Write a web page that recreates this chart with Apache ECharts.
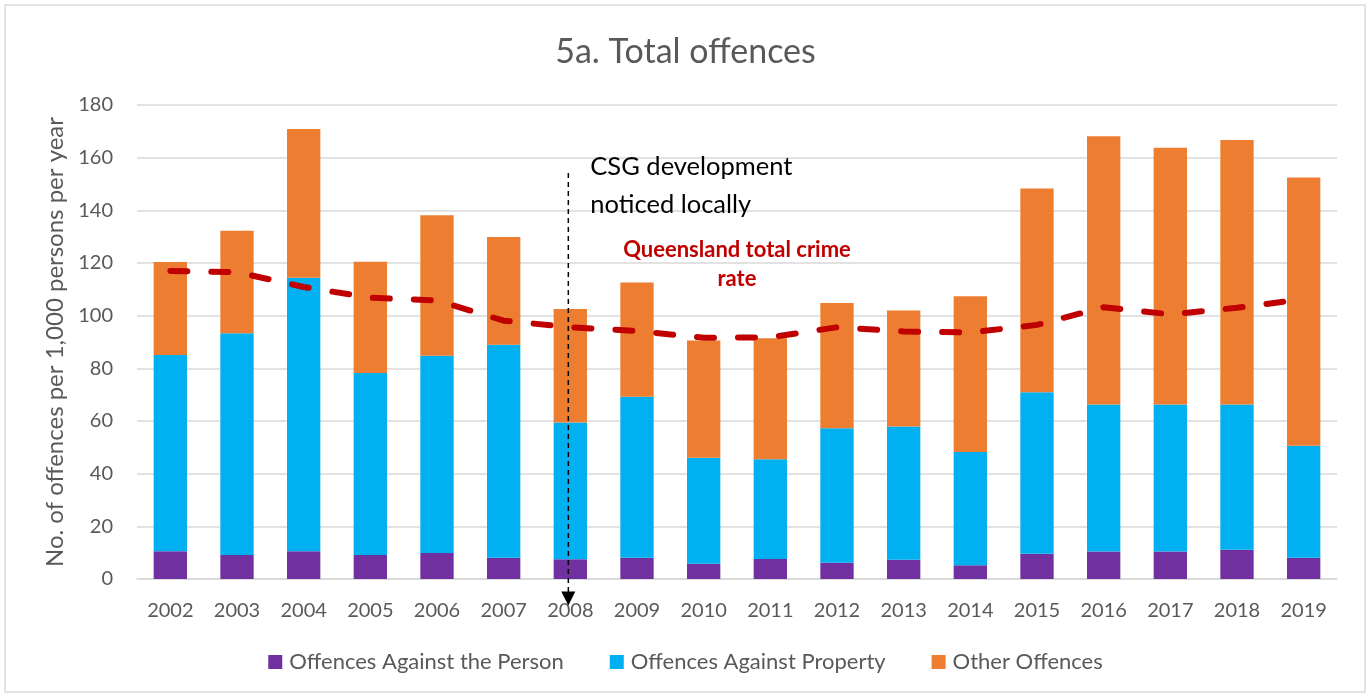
<!DOCTYPE html>
<html><head><meta charset="utf-8">
<script src="https://cdn.jsdelivr.net/npm/echarts@6/dist/echarts.min.js"></script>
<style>html,body{margin:0;padding:0;background:#fff}#c{width:1371px;height:698px}</style>
</head><body><div id="c"></div>
<script>
const years = ['2002','2003','2004','2005','2006','2007','2008','2009','2010','2011','2012','2013','2014','2015','2016','2017','2018','2019'];
const againstPerson   = [10.5, 9.1, 10.5, 9.1, 9.9, 8.1, 7.5, 8.1, 5.8, 7.6, 6.2, 7.3, 5.2, 9.6, 10.4, 10.4, 11.1, 8.1];
const againstProperty = [74.6, 84.2, 103.9, 69.1, 74.9, 80.9, 51.9, 61.1, 40.2, 37.9, 51.0, 50.6, 43.0, 61.3, 55.9, 55.9, 55.2, 42.5];
const otherOffences   = [35.3, 38.9, 56.5, 42.3, 53.3, 40.9, 43.1, 43.4, 44.6, 45.9, 47.6, 44.1, 59.2, 77.4, 101.8, 97.5, 100.4, 101.9];
const qldTotalRate    = [117.0, 116.5, 110.9, 106.8, 105.8, 98.1, 95.6, 94.2, 91.6, 91.8, 95.6, 94.0, 93.6, 96.5, 103.2, 100.5, 103.0, 106.3];
const yTicks = {min: 0, max: 180, interval: 20};

const FONT = 'Lato, "Open Sans", sans-serif';
const GREY = '#595959';
const chart = echarts.init(document.getElementById('c'), null, {renderer: 'canvas'});
const option = {
  animation: false,
  backgroundColor: '#fff',
  textStyle: {fontFamily: FONT},
  title: {
    text: '5a. Total offences', left: 'center', top: 30,
    textStyle: {fontFamily: FONT, fontSize: 34, fontWeight: 'normal', color: GREY}
  },
  grid: {left: 137, right: 34, top: 105, bottom: 119, containLabel: false},
  legend: {
    bottom: 20, left: 'center', icon: 'rect', itemWidth: 14, itemHeight: 14, itemGap: 46,
    data: ['Offences Against the Person', 'Offences Against Property', 'Other Offences'],
    textStyle: {fontFamily: FONT, fontSize: 22, color: GREY, padding: [0, 0, 0, 2]}
  },
  xAxis: {
    type: 'category', data: years,
    axisLine: {lineStyle: {color: '#D9D9D9', width: 1.5}},
    axisTick: {show: false},
    axisLabel: {fontFamily: FONT, fontSize: 20, color: GREY, margin: 22}
  },
  yAxis: {
    type: 'value', min: yTicks.min, max: yTicks.max, interval: yTicks.interval,
    name: 'No. of offences per 1,000 persons per year', nameLocation: 'middle', nameGap: 68,
    nameTextStyle: {fontFamily: FONT, fontSize: 24, color: GREY},
    axisLine: {show: false}, axisTick: {show: false},
    splitLine: {lineStyle: {color: '#D9D9D9', width: 1.5}},
    axisLabel: {fontFamily: FONT, fontSize: 20, color: GREY, margin: 24}
  },
  series: [
    {name: 'Offences Against the Person', type: 'bar', stack: 't', barWidth: '50%', data: againstPerson, itemStyle: {color: '#7030A0'}},
    {name: 'Offences Against Property', type: 'bar', stack: 't', data: againstProperty, itemStyle: {color: '#00B0F0'}},
    {name: 'Other Offences', type: 'bar', stack: 't', data: otherOffences, itemStyle: {color: '#ED7D31'}},
    {name: 'Queensland total crime rate', type: 'line', data: qldTotalRate, symbol: 'none', z: 5,
     lineStyle: {color: '#C00000', width: 6, type: [17, 24], cap: 'round'}}
  ]
};
chart.setOption(option);

function px(cat, val) { return chart.convertToPixel({xAxisIndex: 0, yAxisIndex: 0}, [cat, val]); }
const a0 = px('2008', 154.2), a1 = px('2008', -5.5);
const r0 = px('2010', 125), r1 = px('2011', 125);
const redX = (r0[0] + r1[0]) / 2;
const redY2 = px('2010', 114)[1];
const csg1 = px('2008', 156.5), csg2 = px('2008', 142);
chart.setOption({
  graphic: [
    {type: 'rect', shape: {x: 5, y: 5, width: 1360, height: 687}, style: {fill: 'none', stroke: '#D9D9D9', lineWidth: 1.5}, silent: true, z: 0},
    {type: 'line', shape: {x1: a0[0] - 2, y1: a0[1], x2: a0[0] - 2, y2: a1[1]}, style: {stroke: '#000', lineWidth: 1.5, lineDash: [5, 4]}, z: 10},
    {type: 'polygon', shape: {points: [[a0[0] - 9, a1[1] - 2], [a0[0] + 5, a1[1] - 2], [a0[0] - 2, a1[1] + 12]]}, style: {fill: '#000'}, z: 10},
    {type: 'text', x: csg1[0] + 20, y: csg1[1], style: {text: 'CSG development', font: '25.5px ' + FONT, fill: '#000', align: 'left', verticalAlign: 'middle'}, z: 10},
    {type: 'text', x: csg2[0] + 20, y: csg2[1], style: {text: 'noticed locally', font: '25.5px ' + FONT, fill: '#000', align: 'left', verticalAlign: 'middle'}, z: 10},
    {type: 'text', x: redX, y: r0[1], style: {text: 'Queensland total crime', font: 'bold 22px ' + FONT, fill: '#C00000', align: 'center', verticalAlign: 'middle'}, z: 10},
    {type: 'text', x: redX, y: redY2, style: {text: 'rate', font: 'bold 22px ' + FONT, fill: '#C00000', align: 'center', verticalAlign: 'middle'}, z: 10}
  ]
});
</script>
</body></html>
